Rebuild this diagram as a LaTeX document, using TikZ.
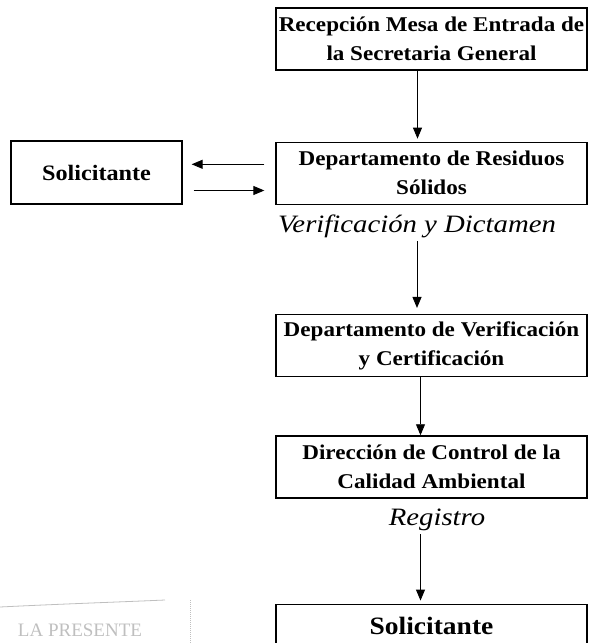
\documentclass[tikz,border=0pt]{standalone}
\usepackage{fontspec}
\setmainfont{Liberation Serif}
\newfontfamily\cajafont[FakeStretch=1.1]{Liberation Serif}
\newfontfamily\etiqfont[FakeStretch=1.15]{Liberation Serif}
\usetikzlibrary{positioning,arrows.meta}

\begin{document}
\begin{tikzpicture}[x=1pt, y=-1pt,
    caja/.style={draw, line width=1.3pt, minimum width=311pt, minimum height=62pt,
      align=center, inner sep=2pt, font=\cajafont\bfseries\fontsize{21}{29}\selectfont},
    flecha/.style={-{Triangle[length=11pt,width=9pt]}, line width=0.9pt},
    etiq/.style={font=\etiqfont\itshape\fontsize{25}{28}\selectfont},
    node distance=71pt]
    \useasboundingbox (0,0) rectangle (589,643);
    \clip (0,0) rectangle (589,643);
    \node[caja] (recep) at (431.5,39) {Recepción Mesa de Entrada de\\la Secretaria General};
    \node[caja, below=of recep] (resid) {Departamento de Residuos\\Sólidos};
    \node[caja, minimum width=171pt, minimum height=63pt,
      font=\cajafont\bfseries\fontsize{22}{29}\selectfont] (solic) at (96.5,172.5) {Solicitante};
    \node[etiq] (verif) at (417,226) {Verificación y Dictamen};
    \node[caja, below=109pt of resid] (certif) {Departamento de Verificación\\y Certificación};
    \node[caja, below=58pt of certif] (calidad) {Dirección de Control de la\\Calidad Ambiental};
    \node[etiq] (regis) at (437,520) {Registro};
    \node[caja, below=105pt of calidad, minimum height=44pt,
      font=\cajafont\bfseries\fontsize{25}{30}\selectfont] (final) {Solicitante};
    \coordinate (ida) at ([xshift=-11pt,yshift=9pt]resid.west);
    \coordinate (vuelta) at ([xshift=11pt,yshift=-18pt]solic.east);
    \draw[flecha, shorten >=3pt] ([xshift=-14pt]recep.south) -- ([xshift=-14pt]resid.north);
    \draw[flecha, shorten >=9pt] (ida) -- (solic.east |- ida);
    \draw[flecha, shorten >=11pt] (vuelta) -- (resid.west |- vuelta);
    \draw[flecha, shorten >=6pt] (verif.south) -- (verif.south |- certif.north);
    \draw[flecha] ([xshift=-11pt]certif.south) -- ([xshift=-11pt]calidad.north);
    \draw[flecha, shorten >=3pt] ([xshift=-11pt]final.north |- regis.south) -- ([xshift=-11pt]final.north);
    % sello
    \draw[gray!50, line width=0.8pt] (0,607) .. controls (60,604) and (120,602) .. (165,600);
    \draw[gray!50, densely dotted, line width=1pt] (190,600) -- (190,643);
    \node[gray!50, font=\fontsize{19}{22}\selectfont] (sello) at (80,630) {LA PRESENTE};
\end{tikzpicture}
\end{document}
